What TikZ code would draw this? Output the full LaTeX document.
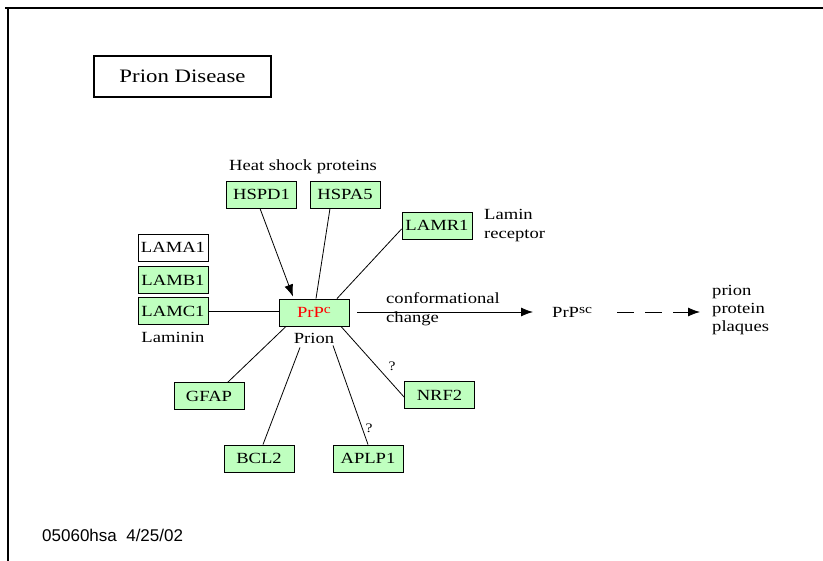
\documentclass[tikz,border=0pt]{standalone}
\usepackage{fontspec}
\setmainfont{Liberation Serif}[FakeStretch=1.2]
\newfontfamily\stampfont{Liberation Sans}
\usetikzlibrary{arrows.meta,calc}
\definecolor{genegreen}{HTML}{BFFFBF}
\newcommand\labelsize{\fontsize{15.5}{18}\selectfont}
\newcommand\upidx[1]{\raisebox{4pt}{\fontsize{13}{13}\selectfont #1}}
\tikzset{
  gene/.style={draw=black, fill=genegreen, line width=0.9pt, minimum width=70pt,
    minimum height=27pt, inner sep=0pt, font=\labelsize},
  genewhite/.style={gene, fill=white},
  lbl/.style={inner sep=0pt, font=\labelsize},
  link/.style={line width=0.8pt},
  tip/.style={-{Latex[length=12pt,width=9pt]}},
}
\begin{document}
\begin{tikzpicture}[x=1pt,y=-1pt]
\useasboundingbox (0,0) rectangle (823,561);
% page frame
\draw[line width=2pt] (5,8) -- (823,8);
\draw[line width=1.4pt] (8,8) -- (8,561);
% title
\node[draw, line width=2pt, minimum width=177pt, minimum height=41pt, inner sep=0pt,
  font=\fontsize{19}{21}\selectfont] (title) at (182.5,76.5) {Prion Disease};
% genes
\node[gene] (hspd1) at (261.5,194.5) {HSPD1};
\node[gene] (hspa5) at (345,194.5) {HSPA5};
\node[gene] (lamr1) at (437,225.5) {LAMR1};
\node[genewhite] (lama1) at (173,247.5) {LAMA1};
\node[gene] (lamb1) at (173,280) {LAMB1};
\node[gene] (lamc1) at (173,311) {LAMC1};
\node[gene, text=red] (prpc) at (314,312.5) {PrP\upidx{c}};
\node[gene] (gfap) at (209,396) {GFAP};
\node[gene] (bcl2) at (259,458.5) {BCL2};
\node[gene] (aplp1) at (368,458.5) {APLP1};
\node[gene] (nrf2) at (439.5,395) {NRF2};
% labels
\node[lbl] (heat) at (303,167) {Heat shock proteins};
\node[lbl] (laminin) at (173,337) {Laminin};
\node[lbl] (prion) at (314,338) {Prion};
\node[lbl, anchor=west, align=left, font=\fontsize{15.5}{19}\selectfont] (lrec) at (484,226) {Lamin\\receptor};
\node[lbl, anchor=west, align=left, font=\fontsize{15.5}{19}\selectfont] (conf) at (386,309.5) {conformational\\change};
\node[lbl, anchor=west] (prpsc) at (552,312) {PrP\upidx{sc}};
\node[lbl, anchor=west, align=left, font=\fontsize{15.5}{18}\selectfont] (plaq) at (712,310) {prion\\protein\\plaques};
\node[lbl, font=\fontsize{13}{14}\selectfont] (q1) at (392,366) {?};
\node[lbl, font=\fontsize{13}{14}\selectfont] (q2) at (369,428) {?};
\node[lbl, anchor=west, font=\stampfont\fontsize{17}{19}\selectfont] (stamp) at (42,535) {05060hsa\ \ 4/25/02};
% connectors
\coordinate (convend) at (533,312);
\coordinate (dashstart) at (617,312);
\coordinate (dashend) at (700,312);
\draw[link] (lamc1.east) -- (prpc.west |- lamc1.east);
\draw[link, tip] ([xshift=-1.5pt]hspd1.south) -- ([xshift=-21pt,yshift=2pt]prpc.north);
\draw[link] ([xshift=-15pt]hspa5.south) -- ([xshift=2pt]prpc.north);
\draw[link] ([yshift=-3.5pt]lamr1.west) -- ([xshift=23pt]prpc.north);
\draw[link] ([xshift=-28pt]prpc.south) -- ([xshift=19pt]gfap.north);
\draw[link] ([xshift=-14pt,yshift=-21pt]prpc.south) -- ([xshift=4pt]bcl2.north);
\draw[link] ([xshift=19pt,yshift=-19pt]prpc.south) -- ([xshift=0pt]aplp1.north);
\draw[link] ([xshift=27pt]prpc.south) -- ([yshift=-2pt]nrf2.west);
\draw[link, tip] ([xshift=8pt]prpc.east |- convend) -- (convend);
\draw[link, tip, dash pattern=on 17pt off 11pt] (dashstart) -- (dashend);
\end{tikzpicture}
\end{document}
